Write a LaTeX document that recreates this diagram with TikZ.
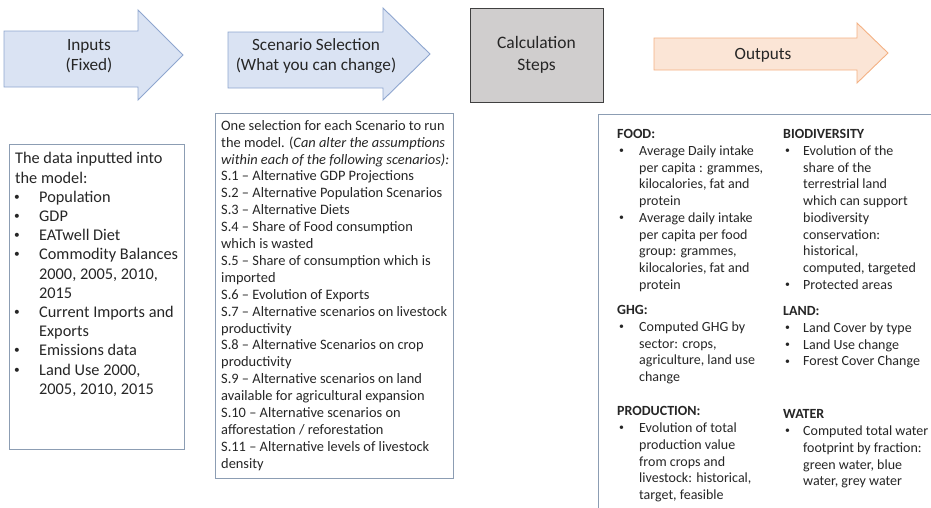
\documentclass[tikz,border=0pt]{standalone}
\usepackage{fontspec}
\setmainfont{Carlito}

\definecolor{bluefill}{HTML}{DAE3F3}
\definecolor{blueline}{HTML}{8EA6CF}
\definecolor{orangefill}{HTML}{FBE5D6}
\definecolor{orangeline}{HTML}{F4B183}
\definecolor{calcfill}{HTML}{D0CECE}
\definecolor{calcline}{HTML}{404040}
\definecolor{panelline}{HTML}{8C9DB3}
\definecolor{ink}{HTML}{262626}

% bullet cell of a given width, with a small shift of the dot
\newcommand\mybul[2]{\makebox[#1][l]{\hspace{#2}\raisebox{0.12em}{\scalebox{0.7}{\textbullet}}}}
% hanging indent for continuation lines
\newcommand\myind[1]{\hspace*{#1}}

\tikzset{
  bluearrow/.style={fill=bluefill, draw=blueline, line width=0.9pt, line join=miter},
  orangearrow/.style={fill=orangefill, draw=orangeline, line width=0.9pt, line join=miter},
  calcbox/.style={fill=calcfill, draw=calcline, line width=0.9pt, text=ink, align=center,
    font=\fontsize{17.5}{22.5}\selectfont},
  lbl/.style={text=ink, align=center, inner sep=0pt, font=\fontsize{17.2}{20.5}\selectfont},
  panel/.style={draw=panelline, line width=0.8pt, fill=white, anchor=north west, inner sep=0pt},
  bodytext/.style={text=ink, align=left, inner sep=0pt, anchor=north west},
  bigtext/.style={bodytext, font=\fontsize{16.3}{19.2}\selectfont},
  midtext/.style={bodytext, font=\fontsize{14.4}{16.9}\selectfont},
  outtext/.style={bodytext, font=\fontsize{14.0}{16.7}\selectfont},
}

\begin{document}
\begin{tikzpicture}[x=1pt, y=-1pt]
\useasboundingbox (0,0) rectangle (931,507);
\clip (0,0) rectangle (931,507);

% ---- top row: flow arrows and calculation box ----
\draw[bluearrow] (4,31) -- (138,31) -- (138,10) -- (183,55) -- (138,100) -- (138,87) -- (4,87) -- cycle;
\node[lbl] (inlbl) at (89,56) {Inputs\\(Fixed)};

\draw[bluearrow] (228,32) -- (383,32) -- (383,8) -- (430,54) -- (383,100) -- (383,88) -- (228,88) -- cycle;
\node[lbl] (sclbl) at (316,56) {Scenario Selection\\(What you can change)};

\node[calcbox, minimum width=133pt, minimum height=94pt] (calc) at (536.5,55) {Calculation\\Steps};

\draw[orangearrow] (654,38) -- (857,38) -- (857,23) -- (888,53) -- (857,83) -- (857,70) -- (654,70) -- cycle;
\node[lbl] (outlbl) at (763,55) {Outputs};

% ---- panels ----
\node[panel, minimum width=175pt, minimum height=305pt] (inbox) at (9,144) {};
\node[panel, minimum width=238pt, minimum height=365pt] (scbox) at (215,113) {};
\node[panel, minimum width=400pt, minimum height=420pt] (outbox) at (598,114) {};

% ---- inputs ----
\node[bigtext] (intext) at (15,150.2) {\strut The data inputted into\\
the model:\\
\mybul{24pt}{-1pt}Population\\
\mybul{24pt}{-1pt}GDP\\
\mybul{24pt}{-1pt}EATwell Diet\\
\mybul{24pt}{-1pt}Commodity Balances\\
\myind{24pt}2000, 2005, 2010,\\
\myind{24pt}2015\\
\mybul{24pt}{-1pt}Current Imports and\\
\myind{24pt}Exports\\
\mybul{24pt}{-1pt}Emissions data\\
\mybul{24pt}{-1pt}Land Use 2000,\\
\myind{24pt}2005, 2010, 2015};

% ---- scenarios ----
\node[midtext] (sctext) at (221,118.2) {\strut One selection for each Scenario to run\\
the model. (\textit{Can alter the assumptions}\\
\textit{within each of the following scenarios):}\\
S.1 – Alternative GDP Projections\\
S.2 – Alternative Population Scenarios\\
S.3 – Alternative Diets\\
S.4 – Share of Food consumption\\
which is wasted\\
S.5 – Share of consumption which is\\
imported\\
S.6 – Evolution of Exports\\
S.7 – Alternative scenarios on livestock\\
productivity\\
S.8 – Alternative Scenarios on crop\\
productivity\\
S.9 – Alternative scenarios on land\\
available for agricultural expansion\\
S.10 – Alternative scenarios on\\
afforestation / reforestation\\
S.11 – Alternative levels of livestock\\
density};

% ---- outputs, left column ----
\node[outtext] (food) at (617,127) {\strut\textbf{FOOD:}\\
\mybul{22pt}{2pt}Average Daily intake\\
\myind{22pt}per capita : grammes,\\
\myind{22pt}kilocalories, fat and\\
\myind{22pt}protein\\
\mybul{22pt}{2pt}Average daily intake\\
\myind{22pt}per capita per food\\
\myind{22pt}group: grammes,\\
\myind{22pt}kilocalories, fat and\\
\myind{22pt}protein};

\node[outtext] (ghg) at (617,303) {\strut\textbf{GHG:}\\
\mybul{22pt}{2pt}Computed GHG by\\
\myind{22pt}sector: crops,\\
\myind{22pt}agriculture, land use\\
\myind{22pt}change};

\node[outtext] (prod) at (617,404) {\strut\textbf{PRODUCTION:}\\
\mybul{22pt}{2pt}Evolution of total\\
\myind{22pt}production value\\
\myind{22pt}from crops and\\
\myind{22pt}livestock: historical,\\
\myind{22pt}target, feasible};

% ---- outputs, right column ----
\node[outtext] (bio) at (783,127) {\strut\textbf{BIODIVERSITY}\\
\mybul{20pt}{2pt}Evolution of the\\
\myind{20pt}share of the\\
\myind{20pt}terrestrial land\\
\myind{20pt}which can support\\
\myind{20pt}biodiversity\\
\myind{20pt}conservation:\\
\myind{20pt}historical,\\
\myind{20pt}computed, targeted\\
\mybul{20pt}{2pt}Protected areas};

\node[outtext] (land) at (783,304) {\strut\textbf{LAND:}\\
\mybul{20pt}{2pt}Land Cover by type\\
\mybul{20pt}{2pt}Land Use change\\
\mybul{20pt}{2pt}Forest Cover Change};

\node[outtext] (water) at (783,407) {\strut\textbf{WATER}\\
\mybul{20pt}{2pt}Computed total water\\
\myind{20pt}footprint by fraction:\\
\myind{20pt}green water, blue\\
\myind{20pt}water, grey water};
\end{tikzpicture}
\end{document}
